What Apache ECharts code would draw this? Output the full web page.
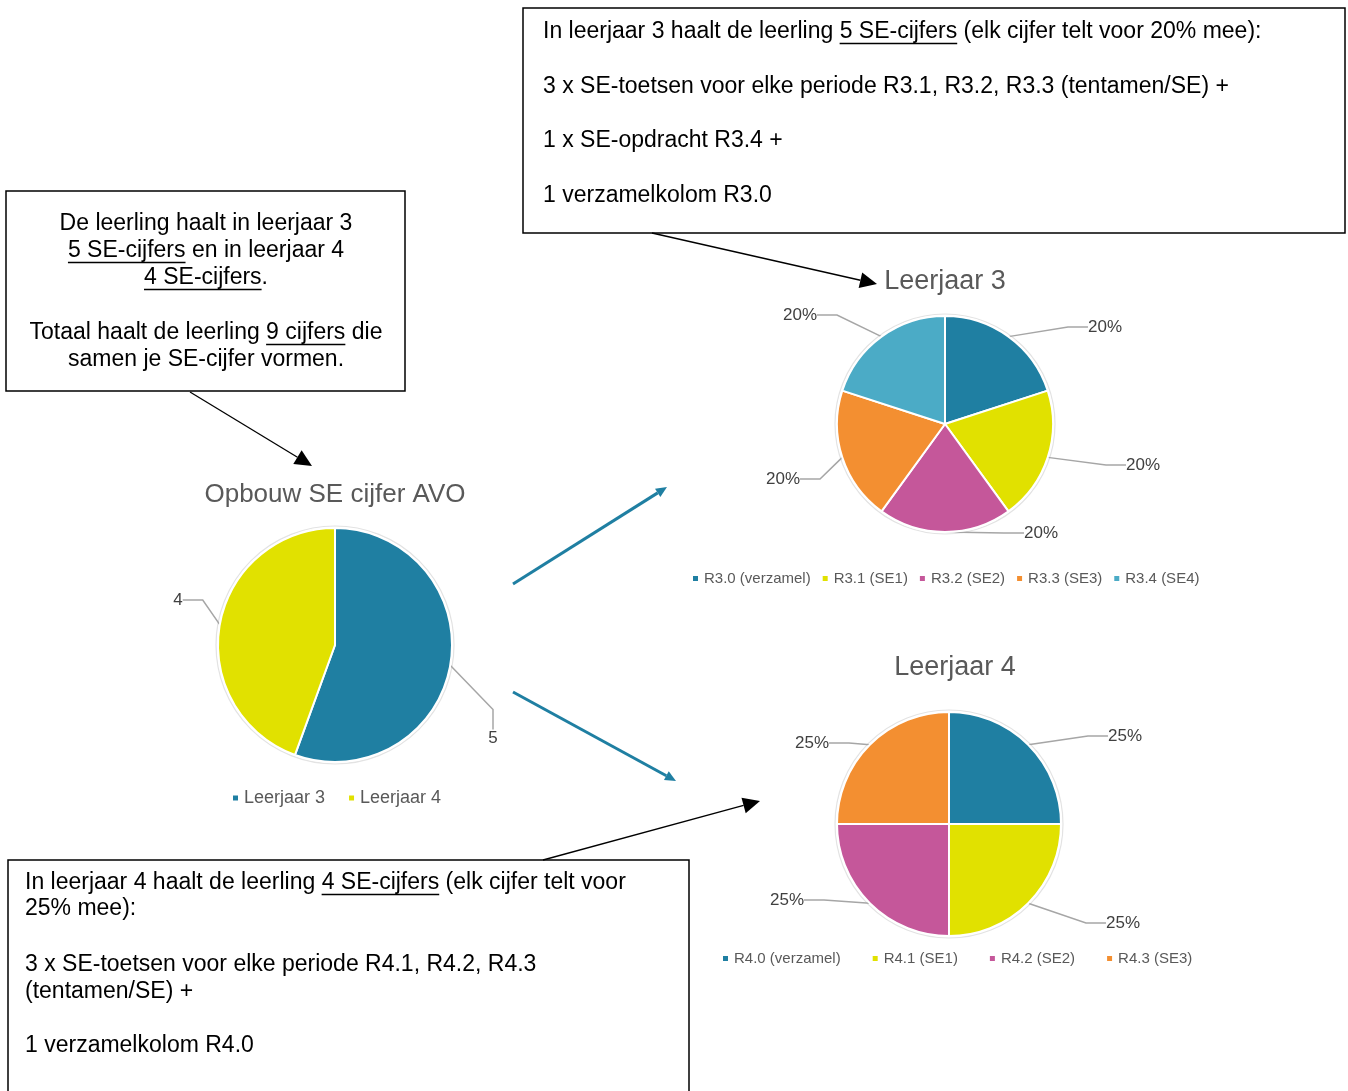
<!DOCTYPE html>
<html>
<head>
<meta charset="utf-8">
<script src="https://cdn.jsdelivr.net/npm/echarts@6/dist/echarts.min.js"></script>
<style>html,body{margin:0;padding:0;background:#fff;}#c{width:1348px;height:1091px;}</style>
</head>
<body>
<div id="c"></div>
<script>
// ---------- DATA ----------
const overviewTitle = 'Opbouw SE cijfer AVO';
const overviewNames = ['Leerjaar 3', 'Leerjaar 4'];
const overviewValues = [5, 4];

const year3Title = 'Leerjaar 3';
const year3Names = ['R3.0 (verzamel)', 'R3.1 (SE1)', 'R3.2 (SE2)', 'R3.3 (SE3)', 'R3.4 (SE4)'];
const year3Values = [20, 20, 20, 20, 20];

const year4Title = 'Leerjaar 4';
const year4Names = ['R4.0 (verzamel)', 'R4.1 (SE1)', 'R4.2 (SE2)', 'R4.3 (SE3)'];
const year4Values = [25, 25, 25, 25];

// text box contents: each line is a list of [text, underlined]
const boxTop = [
  [['In leerjaar 3 haalt de leerling ', 0], ['5 SE-cijfers', 1], [' (elk cijfer telt voor 20% mee):', 0]],
  [['3 x SE-toetsen voor elke periode R3.1, R3.2, R3.3 (tentamen/SE) +', 0]],
  [['1 x SE-opdracht R3.4 +', 0]],
  [['1 verzamelkolom R3.0', 0]]
];
const boxLeft = [
  [['De leerling haalt in leerjaar 3', 0]],
  [['5 SE-cijfers', 1], [' en in leerjaar 4', 0]],
  [['4 SE-cijfers', 1], ['.', 0]],
  [['Totaal haalt de leerling ', 0], ['9 cijfers', 1], [' die', 0]],
  [['samen je SE-cijfer vormen.', 0]]
];
const boxBottom = [
  [['In leerjaar 4 haalt de leerling ', 0], ['4 SE-cijfers', 1], [' (elk cijfer telt voor', 0]],
  [['25% mee):', 0]],
  [['3 x SE-toetsen voor elke periode R4.1, R4.2, R4.3', 0]],
  [['(tentamen/SE) +', 0]],
  [['1 verzamelkolom R4.0', 0]]
];

// ---------- STYLE / LAYOUT ----------
const FONT = "'Liberation Sans', Arial, sans-serif";
const BOX_FONT_SIZE = 23;
const palette = ['#1F7FA2', '#E1E100', '#C5579A', '#F38F31', '#4BABC6'];
const titleColor = '#595959';
const labelColor = '#404040';

// label placement (offset of label centre from pie centre), per slice
const labelOffsets = [
  [[158, 93], [-157, -45]],
  [[160, -97], [198, 41], [96, 109], [-162, 55], [-145, -109]],
  [[176, -88], [174, 99], [-162, 76], [-137, -81]]
];
const pieCenters = [[335, 645], [945, 424], [949, 824]];
const pieRadii = [117, 108, 112];

const ctx = document.createElement('canvas').getContext('2d');
function textWidth(s, size) {
  ctx.font = size + 'px ' + FONT;
  return ctx.measureText(s).width;
}

function buildBox(box, lines, align) {
  const els = [{
    type: 'rect',
    shape: { x: box.x, y: box.y, width: box.w, height: box.h },
    style: { fill: '#fff', stroke: '#000', lineWidth: 1.5 },
    z: 10
  }];
  lines.forEach((line, i) => {
    const y = box.lineY[i];
    const total = line.reduce((s, seg) => s + textWidth(seg[0], BOX_FONT_SIZE), 0);
    let x = align === 'center' ? box.cx - total / 2 : box.tx;
    line.forEach(seg => {
      const w = textWidth(seg[0], BOX_FONT_SIZE);
      els.push({
        type: 'text', x: x, y: y, z: 11,
        style: { text: seg[0], fill: '#000', font: BOX_FONT_SIZE + 'px ' + FONT,
                 textAlign: 'left', textVerticalAlign: 'middle' }
      });
      if (seg[1]) {
        const uy = y + BOX_FONT_SIZE * 0.5;
        els.push({
          type: 'line', z: 11,
          shape: { x1: x, y1: uy, x2: x + w, y2: uy },
          style: { stroke: '#000', lineWidth: 1.3 }
        });
      }
      x += w;
    });
  });
  return els;
}

function arrow(x1, y1, x2, y2, color, width, headLen, headHalf) {
  const ang = Math.atan2(y2 - y1, x2 - x1);
  const bx = x2 - headLen * Math.cos(ang), by = y2 - headLen * Math.sin(ang);
  const px = -Math.sin(ang) * headHalf, py = Math.cos(ang) * headHalf;
  return [
    { type: 'line', z: 12, shape: { x1: x1, y1: y1, x2: bx, y2: by },
      style: { stroke: color, lineWidth: width } },
    { type: 'polygon', z: 12,
      shape: { points: [[x2, y2], [bx + px, by + py], [bx - px, by - py]] },
      style: { fill: color } }
  ];
}

// faint outline ring around each pie (decoration)
const rings = pieCenters.map((c, i) => ({
  type: 'circle', z: 0,
  shape: { cx: c[0], cy: c[1], r: pieRadii[i] + 2 },
  style: { fill: 'none', stroke: '#E3E3E3', lineWidth: 1.2 }
}));

const graphics = [].concat(
  rings,
  buildBox({ x: 523, y: 8, w: 822, h: 225, tx: 543, lineY: [32, 87, 141, 196] }, boxTop, 'left'),
  buildBox({ x: 6, y: 191, w: 399, h: 200, cx: 206, lineY: [224, 251, 278, 333, 360] }, boxLeft, 'center'),
  buildBox({ x: 8, y: 860, w: 681, h: 260, tx: 25, lineY: [883, 909, 965, 992, 1046] }, boxBottom, 'left'),
  arrow(652, 233, 877, 284, '#000', 1.3, 17, 8),
  arrow(190, 392, 312, 466, '#000', 1.3, 17, 8),
  arrow(543, 860, 760, 801, '#000', 1.3, 17, 8),
  arrow(513, 584, 667, 487, '#1F7FA2', 3, 11, 5),
  arrow(513, 692, 676, 781, '#1F7FA2', 3, 11, 5)
);

function pieSeries(idx, id, names, values, fmt, colors) {
  return {
    type: 'pie', name: id, id: id,
    center: pieCenters[idx], radius: pieRadii[idx],
    startAngle: 90, clockwise: true,
    data: names.map((n, i) => ({ name: n, value: values[i], itemStyle: { color: colors[i] } })),
    itemStyle: { borderColor: '#fff', borderWidth: 2 },
    label: { show: true, position: 'outside', formatter: fmt, color: labelColor,
             fontSize: 17, fontFamily: FONT },
    labelLine: { show: true, length: 14, length2: 20, smooth: false,
                 lineStyle: { color: '#A6A6A6', width: 1.5 } },
    labelLayout: function (p) {
      const off = labelOffsets[idx][p.dataIndex];
      const c = pieCenters[idx];
      const cx = c[0] + off[0], cy = c[1] + off[1];
      const w = p.labelRect.width;
      let x = cx;
      if (p.align === 'left') x = cx - w / 2;
      else if (p.align === 'right') x = cx + w / 2;
      return { x: x, y: cy };
    },
    emphasis: { disabled: true }
  };
}

const legendBase = {
  orient: 'horizontal', icon: 'rect', itemWidth: 7, itemHeight: 7,
  selectedMode: false
};

const option = {
  animation: false,
  backgroundColor: '#fff',
  color: palette,
  title: [
    { text: overviewTitle, left: 330, top: 477, textAlign: 'center',
      textStyle: { color: titleColor, fontSize: 26, fontWeight: 'normal', fontFamily: FONT } },
    { text: year3Title, left: 940, top: 263, textAlign: 'center',
      textStyle: { color: titleColor, fontSize: 27, fontWeight: 'normal', fontFamily: FONT } },
    { text: year4Title, left: 950, top: 649, textAlign: 'center',
      textStyle: { color: titleColor, fontSize: 27, fontWeight: 'normal', fontFamily: FONT } }
  ],
  legend: [
    Object.assign({}, legendBase, { data: overviewNames, left: 226, top: 784, itemGap: 22,
      textStyle: { color: titleColor, fontFamily: FONT, fontSize: 18 } }),
    Object.assign({}, legendBase, { data: year3Names, left: 686, top: 566, itemGap: 10,
      textStyle: { color: titleColor, fontFamily: FONT, fontSize: 15 } }),
    Object.assign({}, legendBase, { data: year4Names, left: 716, top: 946, itemGap: 30,
      textStyle: { color: titleColor, fontFamily: FONT, fontSize: 15 } })
  ],
  series: [
    pieSeries(0, 'overview', overviewNames, overviewValues, '{c}', [palette[0], palette[1]]),
    pieSeries(1, 'year3', year3Names, year3Values, '{d}%', palette),
    pieSeries(2, 'year4', year4Names, year4Values, '{d}%', palette)
  ],
  graphic: { elements: graphics }
};

const chart = echarts.init(document.getElementById('c'), null, { renderer: 'canvas' });
chart.setOption(option);
</script>
</body>
</html>
